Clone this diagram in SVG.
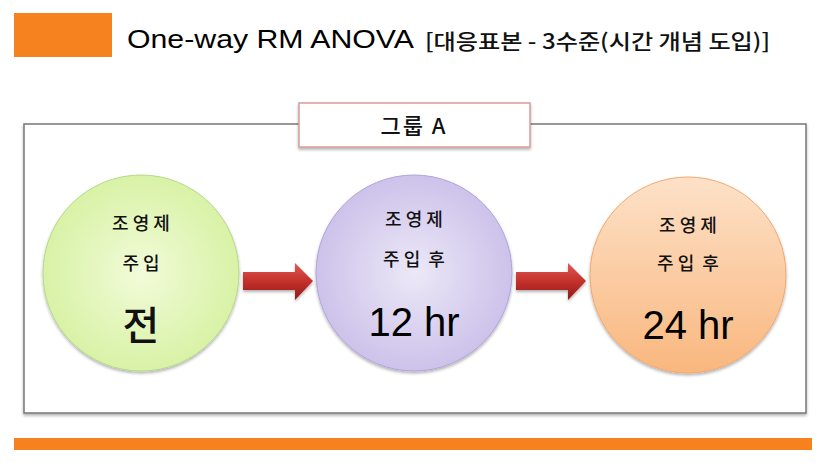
<svg xmlns="http://www.w3.org/2000/svg" width="825" height="466" viewBox="0 0 825 466">
<style>
.t{font-family:"Liberation Sans","Noto Sans CJK KR",sans-serif;fill:#000}
.k{font-family:"Noto Sans CJK KR","Liberation Sans",sans-serif;fill:#111;font-weight:500}
</style>
<defs>
<radialGradient id="gG" cx="0.5" cy="0.5" r="0.5"><stop offset="0" stop-color="#f2fbd9"/><stop offset="1" stop-color="#d8f2a6"/></radialGradient>
<radialGradient id="gP" cx="0.5" cy="0.5" r="0.5"><stop offset="0" stop-color="#ece8f7"/><stop offset="1" stop-color="#cdc2ea"/></radialGradient>
<linearGradient id="gO" x1="0" y1="0" x2="0" y2="1"><stop offset="0" stop-color="#fde1c8"/><stop offset="1" stop-color="#f9b77e"/></linearGradient>
<linearGradient id="gR" x1="0" y1="0" x2="0" y2="1"><stop offset="0" stop-color="#e05a55"/><stop offset="0.5" stop-color="#c4302b"/><stop offset="1" stop-color="#8e1b18"/></linearGradient>
<filter id="sh" x="-5%" y="-5%" width="110%" height="115%"><feDropShadow dx="0" dy="2" stdDeviation="1.5" flood-color="#000" flood-opacity="0.3"/></filter>
</defs>
<rect x="14" y="13" width="98" height="44" fill="#f5821f"/>
<text class="t" x="127" y="48" font-size="25"><tspan textLength="287" lengthAdjust="spacingAndGlyphs">One-way RM ANOVA</tspan><tspan class="k" x="425" y="49" font-size="21" textLength="345" lengthAdjust="spacingAndGlyphs">[대응표본 - 3수준(시간 개념 도입)]</tspan></text>
<g id="frame"><rect x="24" y="124" width="782" height="289" fill="#fff" stroke="#777" stroke-width="1.5" filter="url(#sh)"/></g>
<g id="label"><rect x="299" y="103" width="231" height="44" fill="#fff" stroke="#d99a9a" stroke-width="1.5" filter="url(#sh)"/><text class="k" x="414" y="134" font-size="22" text-anchor="middle" font-weight="bold" letter-spacing="2">그룹 A</text></g>
<g id="connectors">
<path d="M243,272 H295 V263 L313,281 L295,300 V290 H243 Z" fill="url(#gR)" filter="url(#sh)"/>
<path d="M516,272 H568 V263 L586,281 L568,300 V290 H516 Z" fill="url(#gR)" filter="url(#sh)"/>
</g>
<g id="n1"><circle cx="141" cy="273" r="98" fill="url(#gG)" stroke="#b5d98a" filter="url(#sh)"/>
<text class="k" x="141" y="230" font-size="18" text-anchor="middle">조 영 제</text>
<text class="k" x="141" y="270" font-size="18" text-anchor="middle">주 입</text>
<text class="k" x="141" y="340" font-size="40" text-anchor="middle" font-weight="bold">전</text></g>
<g id="n2"><circle cx="414" cy="273" r="98" fill="url(#gP)" stroke="#b1a3dc" filter="url(#sh)"/>
<text class="k" x="414" y="226" font-size="18" text-anchor="middle">조 영 제</text>
<text class="k" x="414" y="266" font-size="18" text-anchor="middle" xml:space="preserve">주 입  후</text>
<text class="t" x="414" y="336" font-size="40" text-anchor="middle">12 hr</text></g>
<g id="n3"><circle cx="688" cy="275" r="98" fill="url(#gO)" stroke="#f0a870" filter="url(#sh)"/>
<text class="k" x="688" y="232" font-size="18" text-anchor="middle">조 영 제</text>
<text class="k" x="688" y="270" font-size="18" text-anchor="middle" xml:space="preserve">주 입  후</text>
<text class="t" x="688" y="339" font-size="40" text-anchor="middle">24 hr</text></g>
<rect x="14" y="438" width="798" height="12" fill="#f5821f"/>
</svg>
